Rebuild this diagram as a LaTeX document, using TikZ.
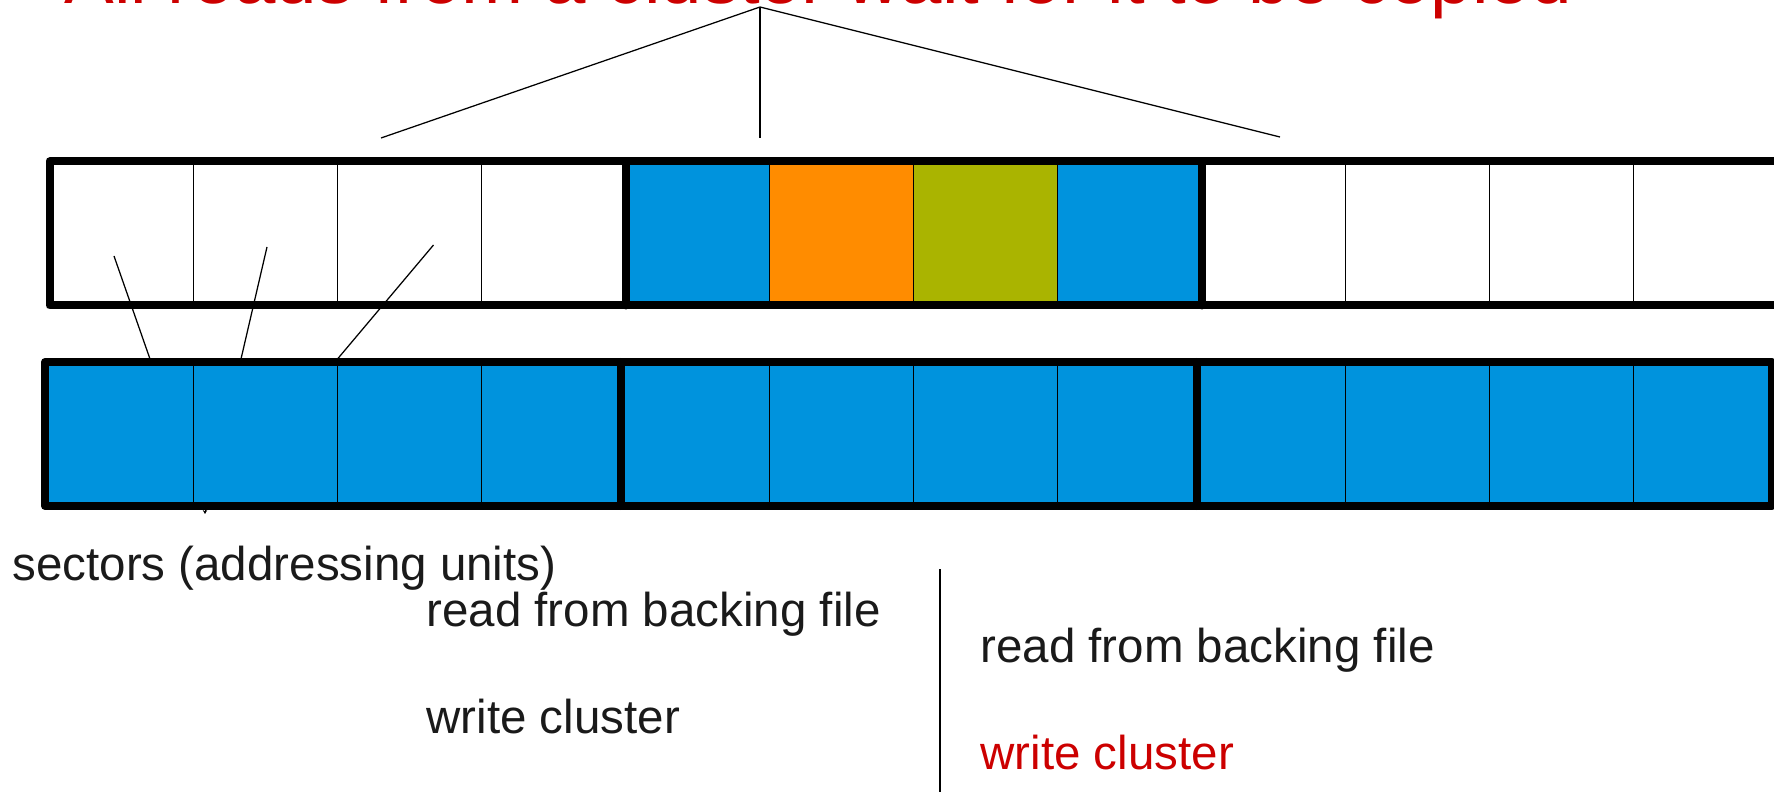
\documentclass[tikz,border=0pt]{standalone}
\usepackage{fontspec}
\setmainfont{Liberation Sans}
\usetikzlibrary{arrows.meta}

\definecolor{cellblue}{RGB}{0,147,221}
\definecolor{cellorange}{RGB}{255,140,0}
\definecolor{cellolive}{RGB}{170,180,0}
\definecolor{alertred}{RGB}{204,0,0}
\definecolor{ink}{RGB}{26,26,26}

\tikzset{
  cell/.style={draw=black, line width=0.4pt},
  frame/.style={draw=black, line width=3.2pt, line join=round, line cap=round},
  leader/.style={draw=black, line width=0.5pt},
  label/.style={anchor=base west, inner sep=0pt, text=ink, font=\fontsize{19}{23}\selectfont},
  headline/.style={anchor=base west, inner sep=0pt, text=alertred, font=\fontsize{29.8}{36}\selectfont},
}

\begin{document}
\begin{tikzpicture}[x=0.4pt, y=-0.4pt]
\useasboundingbox (0,0) rectangle (1774,792);
\clip (0,0) rectangle (1774,792);

% title line, partly above the page edge
\node[headline] (title) at (64,4) {All reads from a cluster wait for it to be copied};

% upper row: virtual disk with one cluster being copied
\foreach \a/\b/\c in {49.5/193.5/white, 193.5/337.5/white, 337.5/481.5/white, 481.5/625.5/white,
                      625.5/769.5/cellblue, 769.5/913.5/cellorange, 913.5/1057.5/cellolive, 1057.5/1201.5/cellblue,
                      1201.5/1345.5/white, 1345.5/1489.5/white, 1489.5/1633.5/white, 1633.5/1777.5/white}
  \path[cell, fill=\c] (\a,161.5) rectangle (\b,305.5);
\path[frame] (49.5,161.5) rectangle (1777.5,305.5);
\foreach \x in {625.5, 1201.5}
  \path[frame] (\x,161.5) -- (\x,305.5);

% lower row: backing file, all sectors present
\foreach \a/\b in {45/193.5, 193.5/337.5, 337.5/481.5, 481.5/621,
                   621/769.5, 769.5/913.5, 913.5/1057.5, 1057.5/1197,
                   1197/1345.5, 1345.5/1489.5, 1489.5/1633.5, 1633.5/1772}
  \path[cell, fill=cellblue] (\a,362) rectangle (\b,506);
\path[frame] (45,362) rectangle (1772,506);
\foreach \x in {621, 1197}
  \path[frame] (\x,362) -- (\x,506);

% cluster brace lines from the title
\coordinate (apex) at (760,7);
\coordinate (cl) at (381,138);
\coordinate (cm) at (760,138);
\coordinate (cr) at (1280,137);
\draw[leader] (cl) -- (apex) -- (cr);
\draw[leader] (apex) -- (cm);

% sector leader lines
\coordinate (s1a) at (114,256);   \coordinate (s1b) at (150,359);
\coordinate (s2a) at (267,247);   \coordinate (s2b) at (241,359);
\coordinate (s3a) at (433.5,245); \coordinate (s3b) at (337.5,359);
\draw[leader] (s1a) -- (s1b);
\draw[leader] (s2a) -- (s2b);
\draw[leader] (s3a) -- (s3b);

% small tick under the lower row
\coordinate (tk1) at (205,508);
\coordinate (tk2) at (205,514);
\draw[line width=0.4pt, -{Stealth[length=1.6pt, width=1.8pt]}] (tk1) -- (tk2);

% labels
\node[label] (sectors) at (12,580) {sectors (addressing units)};
\node[label] (readA) at (426,626) {read from backing file};
\node[label] (writeA) at (426,733) {write cluster};

% divider between the two sequences
\coordinate (sepTop) at (940,569);
\coordinate (sepBot) at (940,792);
\draw[leader, line width=0.6pt] (sepTop) -- (sepBot);

\node[label] (readB) at (980,662) {read from backing file};
\node[label, text=alertred] (writeB) at (980,769) {write cluster};
\end{tikzpicture}
\end{document}
